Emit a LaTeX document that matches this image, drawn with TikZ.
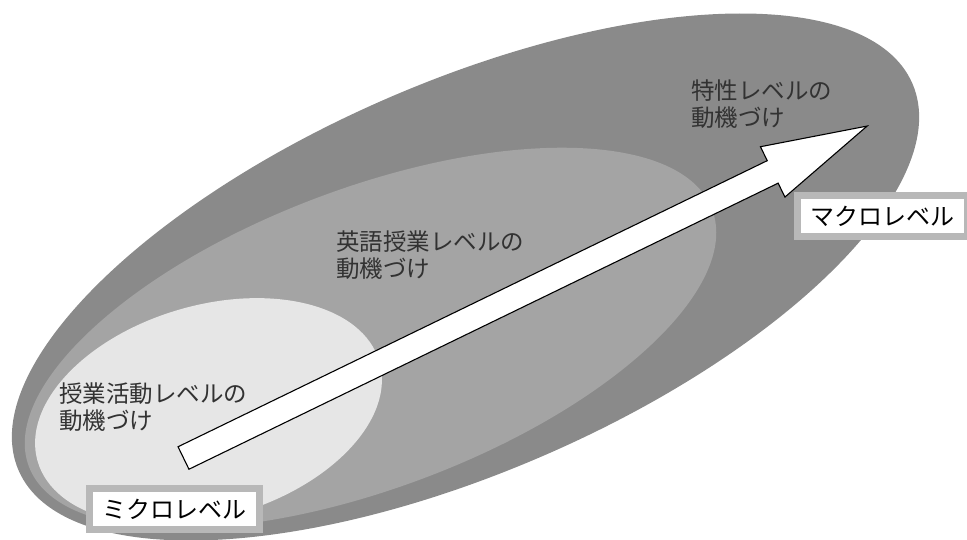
\documentclass[tikz,border=0pt]{standalone}
\usepackage{fontspec}
\setmainfont{Noto Sans CJK JP}
\definecolor{outerc}{RGB}{138,138,138}
\definecolor{midc}{RGB}{164,164,164}
\definecolor{innerc}{RGB}{230,230,230}
\definecolor{boxc}{RGB}{184,184,184}
\definecolor{txtc}{RGB}{50,50,50}
\begin{document}
\begin{tikzpicture}[x=1pt,y=1pt,
  lbl/.style={anchor=north west, align=left, text=txtc, inner sep=0pt,
    font=\fontsize{23.5}{27}\selectfont},
  lvlbox/.style={draw=boxc, line width=7pt, fill=white, inner sep=0pt,
    minimum width=170pt, minimum height=41pt,
    font=\fontsize{24}{26}\selectfont},
  bigarrow/.style={draw=black, fill=white, line width=1.1pt, line join=miter}]
\useasboundingbox (0,0) rectangle (967,540);
% nested ellipses
\fill[outerc, rotate around={23.4:(465.5,263)}] (465.5,263) ellipse [x radius=487pt, y radius=195pt];
\fill[midc, rotate around={20.6:(370.5,202)}] (370.5,202) ellipse [x radius=365pt, y radius=150pt];
\fill[innerc, rotate around={16.3:(208.5,128.5)}] (208.5,128.5) ellipse [x radius=178pt, y radius=106pt];
% labels
\node[lbl] (trait) at (691,460) {特性レベルの\\動機づけ};
\node[lbl] (eng) at (336,309) {英語授業レベルの\\動機づけ};
\node[lbl] (act) at (59,157) {授業活動レベルの\\動機づけ};
% arrow
\coordinate (tail) at (183.5,82);
\begin{scope}[shift={(tail)}, rotate=25.9]
  \draw[bigarrow] (0,-12.5) -- (655,-12.5) -- (655,-28) -- (760,0) -- (655,28) -- (655,12.5) -- (0,12.5) -- cycle;
  \coordinate (tip) at (760,0);
\end{scope}
% level boxes
\node[lvlbox] (micro) at (174.5,31) {ミクロレベル};
\node[lvlbox] (macro) at (882,323.5) {マクロレベル};
\end{tikzpicture}
\end{document}
